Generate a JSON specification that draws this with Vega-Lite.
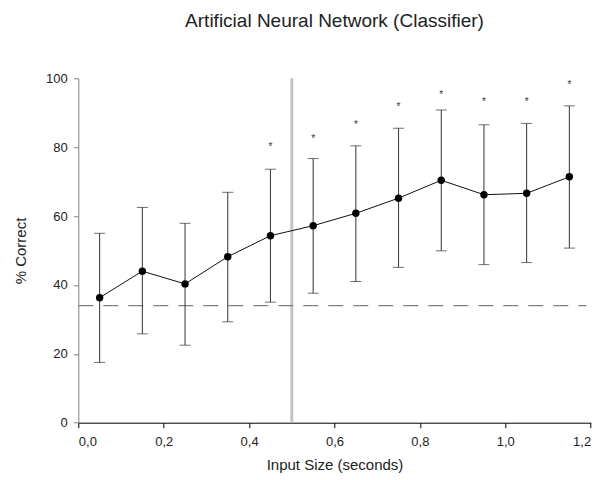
{
  "$schema": "https://vega.github.io/schema/vega-lite/v6.json",
  "autosize": "none",
  "width": 512.4,
  "height": 344.4,
  "padding": {"left": 78.3, "top": 78.3, "right": 12.3, "bottom": 57.3},
  "background": "white",
  "title": {
    "text": "Artificial Neural Network (Classifier)",
    "font": "Liberation Sans",
    "fontSize": 19,
    "fontWeight": "normal",
    "color": "#222222",
    "anchor": "middle",
    "baseline": "alphabetic",
    "offset": 26
  },
  "config": {
    "view": {"stroke": null},
    "font": "Liberation Sans"
  },
  "datasets": {
    "stats": [
      {"size": 0.05, "mean": 36.3, "lo": 17.5, "hi": 55.0, "star": null},
      {"size": 0.15, "mean": 44.0, "lo": 25.8, "hi": 62.5, "star": null},
      {"size": 0.25, "mean": 40.3, "lo": 22.5, "hi": 57.9, "star": null},
      {"size": 0.35, "mean": 48.2, "lo": 29.3, "hi": 66.9, "star": null},
      {"size": 0.45, "mean": 54.3, "lo": 35.0, "hi": 73.6, "star": 80.6},
      {"size": 0.55, "mean": 57.2, "lo": 37.6, "hi": 76.7, "star": 82.9},
      {"size": 0.65, "mean": 60.8, "lo": 41.0, "hi": 80.4, "star": 86.9},
      {"size": 0.75, "mean": 65.2, "lo": 45.1, "hi": 85.5, "star": 92.2},
      {"size": 0.85, "mean": 70.4, "lo": 49.9, "hi": 90.8, "star": 95.8},
      {"size": 0.95, "mean": 66.2, "lo": 45.9, "hi": 86.5, "star": 93.7},
      {"size": 1.05, "mean": 66.6, "lo": 46.5, "hi": 86.9, "star": 93.7},
      {"size": 1.15, "mean": 71.4, "lo": 50.7, "hi": 92.0, "star": 98.5}
    ],
    "chance": [{"y": 34, "x0": 0, "x1": 1.19}],
    "cut": [{"x": 0.5, "y0": 0, "y1": 100}]
  },
  "layer": [
    {
      "data": {"name": "cut"},
      "mark": {"type": "rule", "color": "#c4c4c4", "strokeWidth": 3},
      "encoding": {
        "x": {"field": "x", "type": "quantitative", "scale": {"domain": [0, 1.2], "nice": false},
          "axis": {
            "values": [0, 0.2, 0.4, 0.6, 0.8, 1.0, 1.2],
            "labelExpr": "replace(format(datum.value, '.1f'), '.', ',')",
            "title": "Input Size (seconds)",
            "titleFont": "Liberation Sans", "titleFontSize": 15, "titleFontWeight": "normal", "titleColor": "#222222", "titlePadding": 9,
            "labelFont": "Liberation Sans", "labelFontSize": 13, "labelColor": "#222222", "labelPadding": 8,
            "domainColor": "#000000", "tickColor": "#000000", "tickSize": 5, "grid": false
          }},
        "y": {"field": "y0", "type": "quantitative", "scale": {"domain": [0, 100], "nice": false},
          "axis": {
            "values": [0, 20, 40, 60, 80, 100],
            "title": "% Correct",
            "titleFont": "Liberation Sans", "titleFontSize": 15, "titleFontWeight": "normal", "titleColor": "#222222", "titlePadding": 17,
            "labelFont": "Liberation Sans", "labelFontSize": 13, "labelColor": "#222222", "labelPadding": 6,
            "domainColor": "#808080", "tickColor": "#808080", "tickSize": 5, "grid": false
          }},
        "y2": {"field": "y1"}
      }
    },
    {
      "data": {"name": "chance"},
      "mark": {"type": "rule", "color": "#808080", "strokeWidth": 1.2, "strokeDash": [15, 10]},
      "encoding": {
        "y": {"field": "y", "type": "quantitative"},
        "x": {"field": "x0", "type": "quantitative"},
        "x2": {"field": "x1"}
      }
    },
    {
      "data": {"name": "stats"},
      "mark": {"type": "rule", "color": "#333333", "strokeWidth": 1},
      "encoding": {
        "x": {"field": "size", "type": "quantitative"},
        "y": {"field": "lo", "type": "quantitative"},
        "y2": {"field": "hi"}
      }
    },
    {
      "data": {"name": "stats"},
      "mark": {"type": "tick", "orient": "horizontal", "color": "#333333", "size": 11, "thickness": 1},
      "encoding": {
        "x": {"field": "size", "type": "quantitative"},
        "y": {"field": "hi", "type": "quantitative"}
      }
    },
    {
      "data": {"name": "stats"},
      "mark": {"type": "tick", "orient": "horizontal", "color": "#333333", "size": 11, "thickness": 1},
      "encoding": {
        "x": {"field": "size", "type": "quantitative"},
        "y": {"field": "lo", "type": "quantitative"}
      }
    },
    {
      "data": {"name": "stats"},
      "mark": {"type": "line", "color": "#111111", "strokeWidth": 1},
      "encoding": {
        "x": {"field": "size", "type": "quantitative"},
        "y": {"field": "mean", "type": "quantitative"}
      }
    },
    {
      "data": {"name": "stats"},
      "mark": {"type": "point", "filled": true, "color": "#000000", "size": 55, "opacity": 1},
      "encoding": {
        "x": {"field": "size", "type": "quantitative"},
        "y": {"field": "mean", "type": "quantitative"}
      }
    },
    {
      "data": {"name": "stats"},
      "transform": [{"filter": "datum.star != null"}],
      "mark": {"type": "text", "text": "*", "fontSize": 10, "color": "#333333", "baseline": "middle", "dy": 2},
      "encoding": {
        "x": {"field": "size", "type": "quantitative"},
        "y": {"field": "star", "type": "quantitative"}
      }
    }
  ]
}
